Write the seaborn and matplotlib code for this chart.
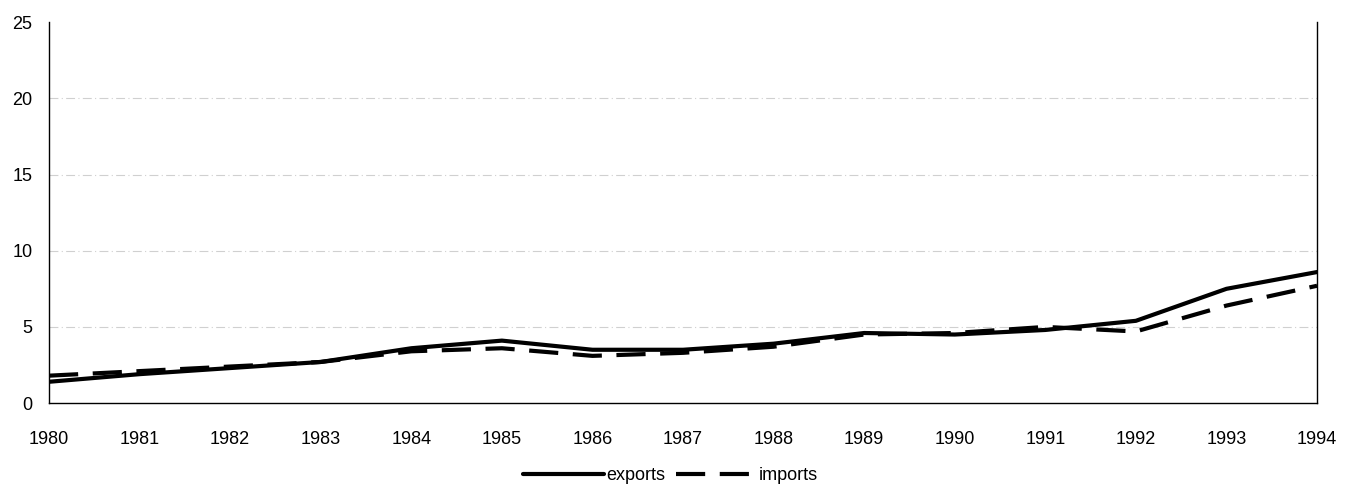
import numpy as np
import pandas as pd
import seaborn as sns
import matplotlib.pyplot as plt

years = list(range(1980, 1995))
exports = [1.4, 1.9, 2.3, 2.7, 3.6, 4.1, 3.5, 3.5, 3.9, 4.6, 4.5, 4.8, 5.4, 7.5, 8.6]
imports = [1.8, 2.1, 2.4, 2.7, 3.4, 3.6, 3.1, 3.3, 3.7, 4.5, 4.6, 5.0, 4.7, 6.4, 7.7]

df = pd.DataFrame({'year': years, 'exports': exports, 'imports': imports})
df = df.melt(id_vars='year', var_name='series', value_name='value')

sns.set_style('white')
plt.rcParams['font.family'] = ['Liberation Sans', 'DejaVu Sans']
plt.rcParams['text.color'] = 'black'
plt.rcParams['xtick.color'] = 'black'
plt.rcParams['ytick.color'] = 'black'

fig = plt.figure(figsize=(13.62, 4.91), dpi=100)
ax = fig.add_axes([0.036, 0.179, 0.931, 0.776])

for y in [5, 10, 15, 20]:
    ax.axhline(y, color='#d0d0d0', lw=0.8, ls=(0, (8, 3, 1, 3)), zorder=0)

sns.lineplot(data=df, x='year', y='value', style='series',
             dashes={'exports': '', 'imports': (7, 3.5)},
             color='black', linewidth=3, ax=ax, legend=True)

ax.set_xlim(1980, 1994)
ax.set_ylim(0, 25)
ax.set_xticks(years)
ax.set_yticks([0, 5, 10, 15, 20, 25])
ax.tick_params(labelsize=13, length=0, labelcolor='black')
ax.tick_params(axis='x', pad=20)
ax.tick_params(axis='y', pad=12)
ax.set_xlabel('')
ax.set_ylabel('')
for s in ['left', 'bottom', 'right']:
    ax.spines[s].set_color('black')
    ax.spines[s].set_linewidth(1)
ax.spines['top'].set_visible(False)

ax.legend(loc='upper center', bbox_to_anchor=(0.49, -0.125), ncol=2, frameon=False,
          fontsize=13, handlelength=4.5, handletextpad=0.1, columnspacing=0.6)

fig.savefig('out.png', dpi=100)
